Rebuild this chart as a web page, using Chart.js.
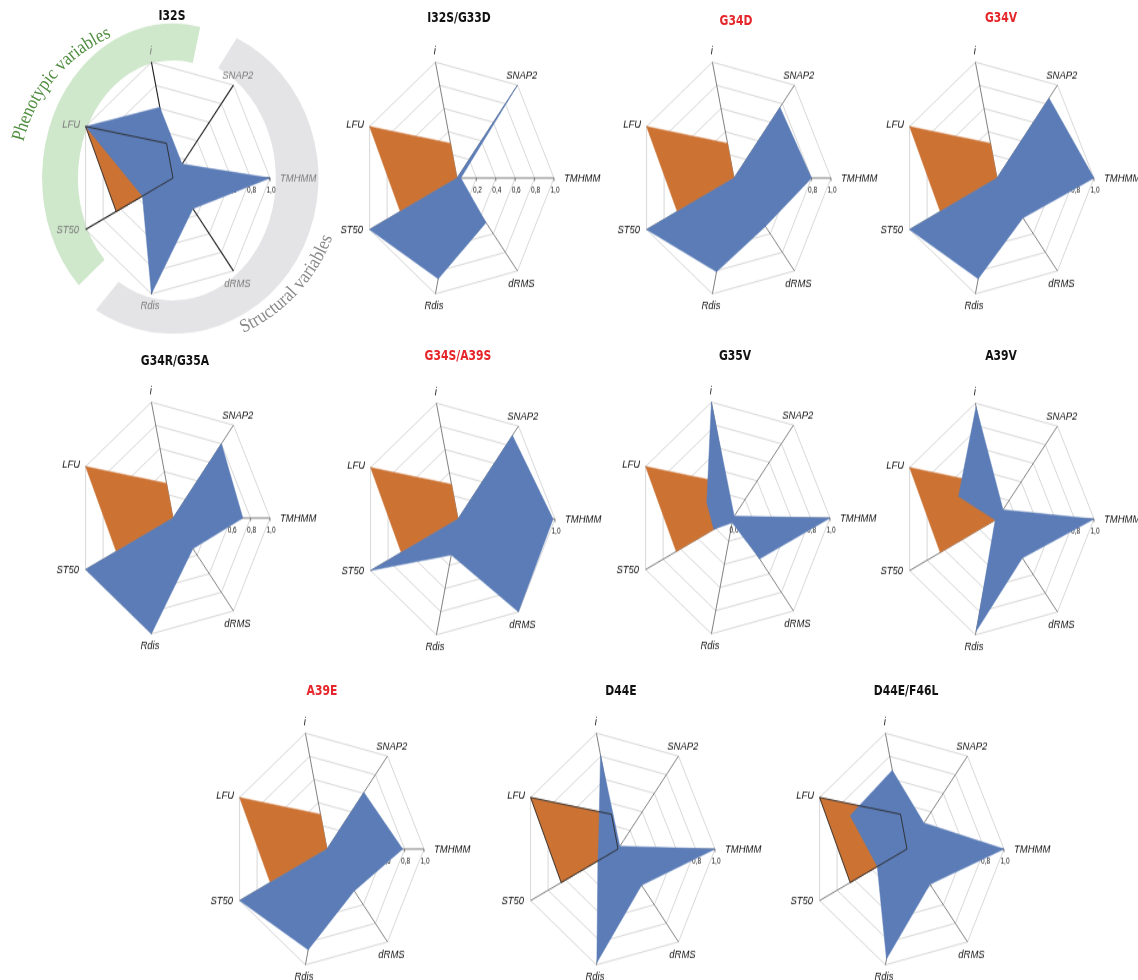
<!DOCTYPE html>
<html>
<head>
<meta charset="utf-8">
<title>Radar profiles of mutants</title>
<script src="https://cdn.jsdelivr.net/npm/chart.js@4.4.1/dist/chart.umd.min.js"></script>
<style>
  html, body { margin: 0; padding: 0; background: #fff; }
  body { width: 1138px; height: 980px; position: relative; overflow: hidden; }
  .panel { position: absolute; width: 340px; height: 340px; transform: scaleY(1.225); transform-origin: 170px 170px; }
  .panel canvas { position: absolute; left: 0; top: 0; }
  .title { position: absolute; white-space: nowrap; transform: translate(-50%, -50%) scaleY(1.225);
           font: bold 12px "Liberation Sans Narrow", "DejaVu Sans Condensed", "Liberation Sans", sans-serif; color: #111; }
  .title.hl { color: #e5262b; }
  svg.arcs { position: absolute; left: 0; top: 0; pointer-events: none; }
</style>
</head>
<body>
<svg class="arcs" width="1138" height="980" xmlns="http://www.w3.org/2000/svg">
  <defs>
    <path id="arcPheno" d=""/>
    <path id="arcStruct" d=""/>
  </defs>
  <text font-family="'Liberation Serif','DejaVu Serif',serif" font-size="19" fill="#4f8d3f">
    <textPath href="#arcPheno" startOffset="50%" text-anchor="middle" textLength="142" lengthAdjust="spacingAndGlyphs">Phenotypic variables</textPath>
  </text>
  <text font-family="'Liberation Serif','DejaVu Serif',serif" font-size="19" fill="#8a8a8c">
    <textPath href="#arcStruct" startOffset="50%" text-anchor="middle" textLength="134" lengthAdjust="spacingAndGlyphs">Structural variables</textPath>
  </text>
</svg>
<script>
// ---- data ----------------------------------------------------------------
const variables = ['i', 'SNAP2', 'TMHMM', 'dRMS', 'Rdis', 'ST50', 'LFU'];
const mutants = ['I32S', 'I32S/G33D', 'G34D', 'G34V', 'G34R/G35A', 'G34S/A39S',
                 'G35V', 'A39V', 'A39E', 'D44E', 'D44E/F46L'];
const redTitled = ['G34D', 'G34V', 'G34S/A39S', 'A39E'];

// wild-type phenotypic profile (same in every panel)
const wildType = [0.30, 0, 0, 0, 0, 0.65, 1.0];

// mutant profiles, in the order of `variables`
const i32s      = [0.61, 0.15, 1.00, 0.33, 1.00, 0.35, 1.00];
const i32sG33d  = [0.00, 1.00, 0.04, 0.48, 0.87, 1.00, 0.00];
const g34d      = [0.00, 0.76, 0.80, 0.52, 0.81, 1.00, 0.00];
const g34v      = [0.00, 0.86, 1.00, 0.43, 0.87, 1.00, 0.00];
const g34rG35a  = [0.00, 0.80, 0.72, 0.33, 1.00, 1.00, 0.00];
const g34sA39s  = [0.00, 0.90, 0.98, 1.00, 0.31, 1.00, 0.00];
const g35v      = [1.00, 0.02, 1.00, 0.44, 0.04, 0.22, 0.30];
const a39v      = [0.97, 0.10, 1.00, 0.42, 0.97, 0.02, 0.44];
const a39e      = [0.00, 0.61, 0.78, 0.45, 0.87, 1.00, 0.00];
const d44e      = [0.81, 0.03, 1.00, 0.39, 0.98, 0.23, 0.22];
const d44eF46l  = [0.68, 0.28, 1.00, 0.38, 0.95, 0.34, 0.65];
const mutantValues = [i32s, i32sG33d, g34d, g34v, g34rG35a, g34sA39s, g35v, a39v, a39e, d44e, d44eF46l];

// panels whose wild-type outline is drawn over the mutant fill
const outlined = ['I32S', 'D44E', 'D44E/F46L'];

// ---- layout --------------------------------------------------------------
const panels = [
  { cx: 173, cy: 178, tx: 172, ty: 15 },
  { cx: 457, cy: 178, tx: 459, ty: 17 },
  { cx: 734, cy: 178, tx: 736, ty: 20 },
  { cx: 997, cy: 178, tx: 1001, ty: 17 },
  { cx: 173, cy: 518, tx: 175, ty: 360 },
  { cx: 458, cy: 519, tx: 458, ty: 355 },
  { cx: 733, cy: 518, tx: 735, ty: 355 },
  { cx: 997, cy: 519, tx: 1001, ty: 355 },
  { cx: 327, cy: 849, tx: 322, ty: 690 },
  { cx: 618, cy: 849, tx: 621, ty: 690 },
  { cx: 907, cy: 849, tx: 906, ty: 690 }
];
const STRETCH = 1.225;      // vertical stretch applied to every panel
const RADIUS = 97;          // radius of the value scale in canvas px
const SIZE = 340;           // square canvas per panel
const PAD = (SIZE - 2 * RADIUS) / 2;

// label offsets (canvas px) relative to the outer end of each spoke
const labelPlacement = [
  { align: 'center', dx: -0.5, dy: -9.5 },
  { align: 'center', dx: 4.3,  dy: -7.5 },
  { align: 'left',   dx: 10,   dy: 0 },
  { align: 'center', dx: 4,    dy: 10.5 },
  { align: 'center', dx: -1.5, dy: 9.5 },
  { align: 'right',  dx: -6.5, dy: 0 },
  { align: 'right',  dx: -5.5, dy: -1.3 }
];

const BLUE = '#5b7cb7';
const ORANGE = '#cc7334';

// ---- plugin: variable bands, value-axis ticks and spoke labels ------------
const radarDecor = {
  id: 'radarDecor',
  beforeDraw(chart, args, o) {
    if (!o.bands) return;
    const s = chart.scales.r, ctx = chart.ctx, R = s.drawingArea;
    o.bands.forEach(b => {
      const a0 = (b.from - 90) * Math.PI / 180, a1 = (b.to - 90) * Math.PI / 180;
      ctx.save();
      ctx.beginPath();
      ctx.ellipse(s.xCenter, s.yCenter, R * b.outer[0], R * b.outer[1], 0, a0, a1, false);
      ctx.ellipse(s.xCenter, s.yCenter, R * b.inner[0], R * b.inner[1], 0, a1, a0, true);
      ctx.closePath();
      ctx.fillStyle = b.color;
      ctx.fill();
      ctx.restore();
    });
  },
  beforeDatasetsDraw(chart, args, o) {
    const s = chart.scales.r, ctx = chart.ctx;
    ctx.save();
    ctx.font = '6.5px "Liberation Sans", Arial, sans-serif';
    ctx.fillStyle = '#111';
    ctx.textAlign = 'center';
    ctx.textBaseline = 'middle';
    ctx.strokeStyle = o.axisColor;
    ctx.lineWidth = 0.8;
    s.ticks.forEach(t => {
      const p = s.getPointPositionForValue(o.valueAxis, t.value);
      ctx.beginPath();
      ctx.moveTo(p.x, p.y);
      ctx.lineTo(p.x, p.y + 2.5);
      ctx.stroke();
      ctx.fillText(t.label, p.x + 1, p.y + 10);
    });
    ctx.restore();
  },
  afterDatasetsDraw(chart, args, o) {
    const s = chart.scales.r, ctx = chart.ctx;
    ctx.save();
    ctx.font = 'italic 9.5px "Liberation Sans", Arial, sans-serif';
    ctx.fillStyle = o.labelColor;
    ctx.textBaseline = 'middle';
    chart.data.labels.forEach((lab, i) => {
      const p = s.getPointPosition(i, s.drawingArea);
      const pl = labelPlacement[i];
      ctx.textAlign = pl.align;
      ctx.fillText(lab, p.x + pl.dx, p.y + pl.dy);
    });
    ctx.restore();
  }
};

// ---- build the panels -----------------------------------------------------
mutants.forEach((name, k) => {
  const lay = panels[k];
  const featured = k === 0;

  const title = document.createElement('div');
  title.className = 'title' + (redTitled.includes(name) ? ' hl' : '');
  title.textContent = name;
  title.style.left = lay.tx + 'px';
  title.style.top = lay.ty + 'px';

  const wrap = document.createElement('div');
  wrap.className = 'panel';
  wrap.style.left = (lay.cx - SIZE / 2) + 'px';
  wrap.style.top = (lay.cy - SIZE / 2) + 'px';
  const canvas = document.createElement('canvas');
  canvas.width = SIZE;
  canvas.height = SIZE;
  wrap.appendChild(canvas);
  document.body.insertBefore(wrap, document.querySelector('svg.arcs'));
  document.body.appendChild(title);

  const datasets = [];
  if (outlined.includes(name)) {
    datasets.push({ label: 'WT outline', data: wildType, fill: false,
                    borderColor: '#2a2a2a', borderWidth: 0.9, pointRadius: 0 });
  }
  datasets.push({ label: name, data: mutantValues[k], fill: true,
                  backgroundColor: BLUE, borderColor: BLUE, borderWidth: 0.5, pointRadius: 0 });
  datasets.push({ label: 'WT', data: wildType, fill: true,
                  backgroundColor: ORANGE, borderColor: ORANGE, borderWidth: 0.5, pointRadius: 0 });

  new Chart(canvas, {
    type: 'radar',
    data: { labels: variables, datasets },
    options: {
      responsive: false,
      animation: false,
      devicePixelRatio: 1,
      layout: { padding: PAD },
      elements: { line: { tension: 0 } },
      plugins: {
        legend: { display: false },
        tooltip: { enabled: false },
        radarDecor: {
          valueAxis: variables.indexOf('TMHMM'),
          axisColor: featured ? '#222' : '#666',
          labelColor: featured ? '#7b7b7b' : '#111',
          bands: featured ? [
            { from: -134, to: 12, inner: [0.98, 0.99], outer: [1.35, 1.3], color: '#cfe7cb' },
            { from: 26, to: 212, inner: [1.06, 1.03], outer: [1.5, 1.31], color: '#e4e4e6' }
          ] : null
        }
      },
      scales: {
        r: {
          min: 0,
          max: 1,
          startAngle: 90 - 2 * 360 / variables.length,
          ticks: { display: false, stepSize: 0.2,
                   callback: v => v.toFixed(1).replace('.', ',') },
          grid: { circular: false, color: '#cdcdcd', lineWidth: 0.8 },
          angleLines: { color: featured ? '#1a1a1a' : '#5e5e5e', lineWidth: featured ? 1.1 : 0.8 },
          pointLabels: { display: false }
        }
      }
    },
    plugins: [radarDecor]
  });
});

// ---- curved captions for the variable groups of the first panel -----------
(function () {
  const c = panels[0];
  const pt = (r, deg) => {
    const a = deg * Math.PI / 180;
    return [(c.cx + r * Math.sin(a)).toFixed(1), (c.cy - r * Math.cos(a)).toFixed(1)];
  };
  const arc = (r, from, to, sweep) => {
    const [x0, y0] = pt(r, from), [x1, y1] = pt(r, to);
    return `M ${x0} ${y0} A ${r} ${r} 0 0 ${sweep} ${x1} ${y1}`;
  };
  document.getElementById('arcPheno').setAttribute('d', arc(154, -100, 0, 1));
  document.getElementById('arcStruct').setAttribute('d', arc(170, 183, 83, 0));
})();
</script>
</body>
</html>
